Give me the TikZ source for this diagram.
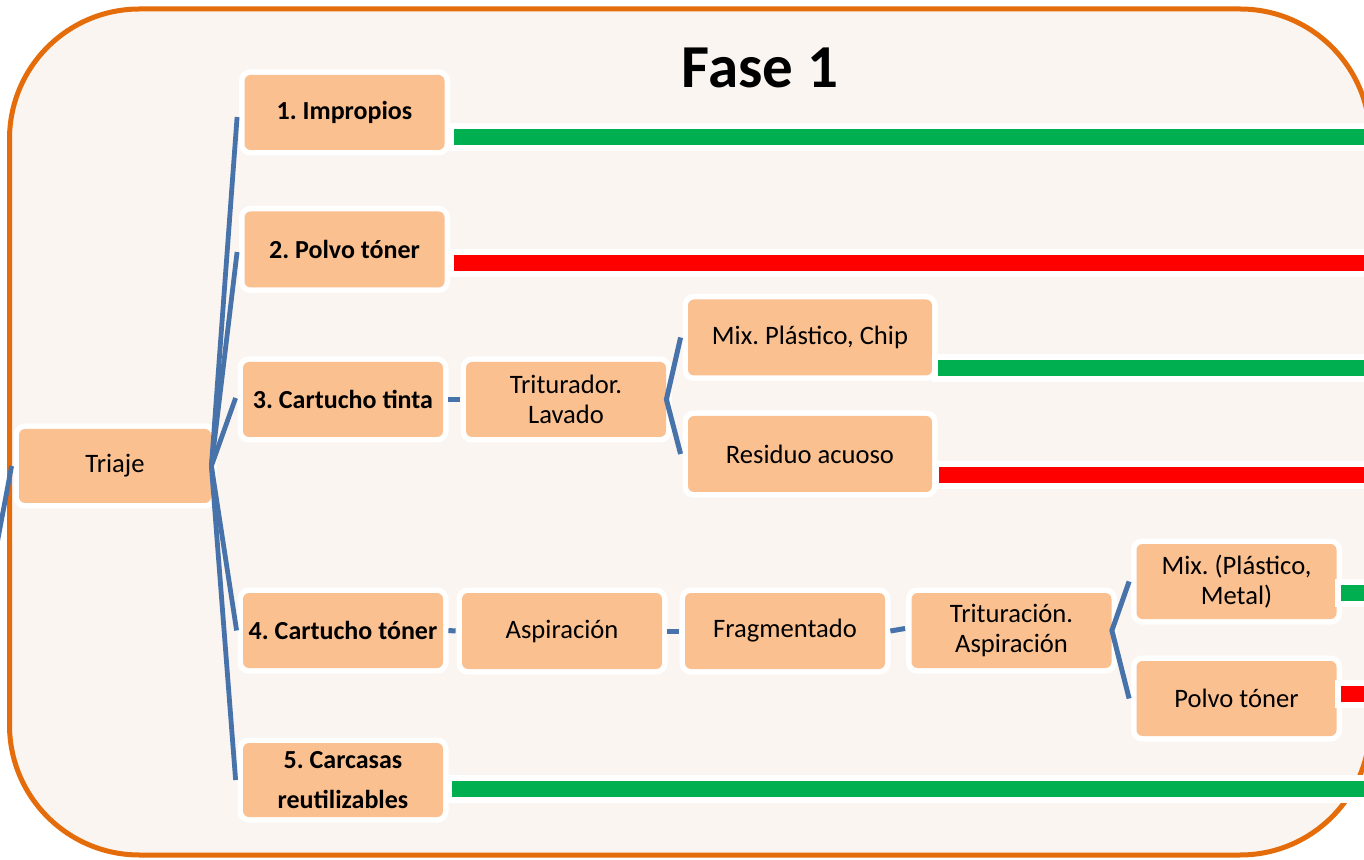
\documentclass[tikz,border=0pt]{standalone}
\usepackage{fontspec}
\setmainfont{Carlito}
\usetikzlibrary{calc}
\frenchspacing
\definecolor{peach}{RGB}{250,192,144}
\definecolor{bgc}{RGB}{250,245,241}
\definecolor{frameor}{RGB}{228,108,10}
\definecolor{conblue}{RGB}{72,115,170}
\definecolor{bargreen}{RGB}{0,176,80}
\definecolor{barred}{RGB}{255,0,0}
\tikzset{
  box/.style={fill=peach, rounded corners=3pt, minimum width=100pt, minimum height=37.5pt,
    inner sep=1pt, align=center, font=\fontsize{13.3}{15}\selectfont,
    preaction={draw=white, line width=5.5pt}},
  widebox/.style={box, minimum width=122pt, minimum height=38pt},
  boldbox/.style={box, font=\fontsize{13}{15}\selectfont\bfseries},
  conn/.style={draw=conblue, line width=2.4pt},
  link/.style={draw=conblue, line width=2.5pt},
  flowbar/.style={line width=8pt, preaction={draw=white, line width=14pt, shorten <=-3pt}},
  greenbar/.style={flowbar, draw=bargreen},
  redbar/.style={flowbar, draw=barred}
}
\begin{document}
\begin{tikzpicture}[x=0.5pt, y=-0.5pt]
\clip (0,0) rectangle (1364,860);
\fill[white] (0,0) rectangle (1364,860);
\draw[frameor, line width=2.5pt, fill=bgc, rounded corners=65pt] (9.5,9) rectangle (1370,855);

\node[inner sep=0pt, font=\fontsize{30.5}{36}\selectfont\bfseries] (title) at (760,68) {Fase 1};

\node[box, minimum width=96pt, minimum height=37pt] (tri) at (115,466) {Triaje};
\node[boldbox] (imp) at (344.5,112.5) {1. Impropios};
\node[boldbox, minimum height=38pt] (pol) at (344.5,249.5) {2. Polvo tóner};
\node[boldbox] (tinta) at (343,399.5) {3. Cartucho tinta};
\node[boldbox] (toner) at (343,630.5) {4. Cartucho tóner};
\node[boldbox, minimum height=37pt] (carc) at (343,780) {5. Carcasas\\[5pt]reutilizables};
\node[box] (trit) at (566,399.5) {Triturador.\\Lavado};
\node[widebox] (mixchip) at (810,337.5) {Mix. Plástico, Chip};
\node[widebox] (resid) at (810,454) {Residuo acuoso};
\node[box, minimum height=38pt] (asp) at (562,631) {Aspiración};
\node[box, minimum height=38pt] (frag) at (785,631) {Fragmentado};
\node[box] (tritas) at (1011.5,630.5) {Trituración.\\Aspiración};
\node[box] (mixmet) at (1236.5,581.5) {Mix. (Plástico,\\Metal)};
\node[box] (polvo2) at (1236.5,698.5) {Polvo tóner};

% connector from off-picture predecessor
\coordinate (prev) at (-21,640);
\draw[conn] (prev) -- ($(tri.west)+(-7,0)$);

% branches from Triaje
\draw[conn] (tri.east) -- ($(imp.west)+(-7,4.5)$);
\draw[conn] (tri.east) -- ($(pol.west)+(-7,2.5)$);
\draw[conn] (tri.east) -- ($(tinta.west)+(-7,-1.5)$);
\draw[conn] (tri.east) -- ($(toner.west)+(-6,0)$);
\draw[conn] (tri.east) -- ($(carc.west)+(-7,0)$);

% sequential links
\draw[link] ($(tinta.east)+(5,0)$) -- ($(trit.west)+(-6,0)$);
\draw[link] ($(toner.east)+(5,0)$) -- ($(asp.west)+(-6,0)$);
\draw[link] ($(asp.east)+(5,0)$) -- ($(frag.west)+(-6,0)$);
\draw[link] ($(frag.east)+(5,0)$) -- ($(tritas.west)+(-6,-2)$);

% splits
\draw[link, line join=miter] ($(mixchip.west)+(-7,0)$) -- (trit.east) -- ($(resid.west)+(-7,0)$);
\draw[link, line join=miter] ($(mixmet.west)+(-7,0)$) -- (tritas.east) -- ($(polvo2.west)+(-7,0)$);

% output bars
\draw[greenbar] ($(imp.east)+(9,24.5)$) -- ++(1000,0);
\draw[redbar] ($(pol.east)+(9,14)$) -- ++(1000,0);
\draw[greenbar] ($(mixchip.east)+(6,30.5)$) -- ++(600,0);
\draw[redbar] ($(resid.east)+(7,21)$) -- ++(600,0);
\draw[greenbar] ($(mixmet.east)+(4,11.5)$) -- ++(200,0);
\draw[redbar] ($(polvo2.east)+(4,-4.5)$) -- ++(200,0);
\draw[greenbar] ($(carc.east)+(9,8.5)$) -- ++(1000,0);
\end{tikzpicture}
\end{document}
